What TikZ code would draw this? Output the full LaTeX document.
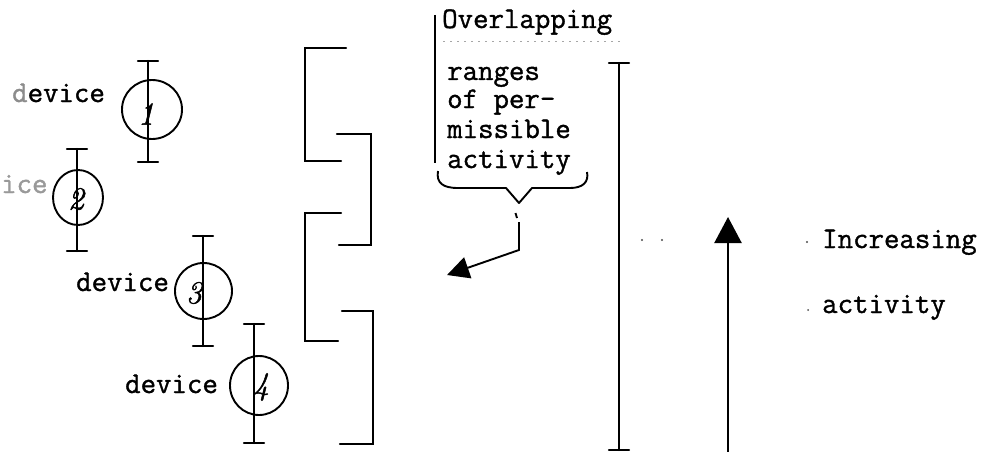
\documentclass[tikz,border=0pt]{standalone}
\usepackage{fontspec}
\usetikzlibrary{arrows.meta}
\newfontfamily\typerfont{Latin Modern Mono}[FakeBold=1.2]
\newfontfamily\handfont{Latin Modern Roman}[FakeBold=1.5]
\tikzset{
  typed/.style={font=\typerfont\fontsize{30}{30}\selectfont, inner sep=0pt, anchor=base west},
  digit/.style={font=\handfont\itshape\fontsize{32}{32}\selectfont, inner sep=0pt},
  ink/.style={line width=2.3pt, line cap=round, line join=miter},
  pen/.style={line width=1.9pt},
  speck/.style={fill=black!70, draw=none},
}
\newcommand{\errbar}[4]{% name, x, top, bottom
  \coordinate (#1t) at (#2,#3);
  \coordinate (#1b) at (#2,#4);
  \draw[ink] (#1t) -- (#1b);
  \draw[ink] ([xshift=-10pt]#1t) -- ([xshift=10pt]#1t);
  \draw[ink] ([xshift=-10pt]#1b) -- ([xshift=10pt]#1b);
}
\begin{document}
\begin{tikzpicture}[x=1pt, y=-1pt]
\useasboundingbox (0,0) rectangle (985,452);

% ---- devices with their individual ranges
\errbar{da}{148}{61}{162}
\draw[pen] (152,109.5) ellipse [x radius=30, y radius=29.5];
\node[digit] (na) at (146,114) {1};
\node[typed] (la) at (12,102) {\textcolor{black!45}{d}evice};

\errbar{db}{77}{149}{251}
\draw[pen] (78,197.5) ellipse [x radius=25, y radius=27.5];
\node[digit] (nb) at (76,199) {2};
\node[typed] (lb) at (1,193) {\textcolor{black!40}{ice}};

\errbar{dc}{203}{236}{346}
\draw[pen] (203.5,291) ellipse [x radius=28.5, y radius=28];
\node[digit] (nc) at (194,293) {3};
\node[typed] (lc) at (76,291) {device};

\errbar{dd}{254}{324}{443}
\draw[pen] (259,385.5) ellipse [x radius=29, y radius=29.5];
\node[digit] (nd) at (261,387) {4};
\node[typed] (ld) at (125,393) {device};

% ---- overlapping brackets
\draw[ink] (346,48) -- (305,48) -- (305,161) -- (341,161);
\draw[ink] (337,134) -- (371,134) -- (371,245) -- (339,245);
\draw[ink] (341,213) -- (305,213) -- (305,341) -- (338,341);
\draw[ink] (342,311) -- (373,311) -- (373,444) -- (340,444);

% ---- caption block
\draw[pen] (435,15) -- (435,163);
\node[typed] (t0) at (442,28) {Overlapping};
\draw[black!35, line width=1pt, dash pattern=on 2pt off 5pt] (443,42) -- (620,42);
\node[typed] (t1) at (447,80) {ranges};
\node[typed] (t2) at (447,108) {of per-};
\node[typed] (t3) at (447,138) {missible};
\node[typed] (t4) at (447,168) {activity};

% brace under the caption
\coordinate (braceTip) at (519,203);
\draw[pen, line join=round]
  (438,171) .. controls (436,183) and (443,188) .. (458,188)
  -- (506,188) -- (braceTip) -- (532,188) -- (570,188)
  .. controls (583,188) and (589,182) .. (587,172);

% pointer from the brace
\coordinate (armTop) at (519,222);
\coordinate (armBend) at (519,250);
\coordinate (armHead) at (447,275);
\draw[pen] (515.5,213) -- (517,218);
\draw[pen, -{Triangle[length=22pt, width=22pt]}] (armTop) -- (armBend) -- (armHead);

% ---- overall range
\errbar{big}{619}{63}{450}

% ---- direction of increasing activity
\coordinate (upFoot) at (728,455);
\coordinate (upTip) at (728,217);
\draw[ink, line cap=butt, -{Triangle[length=26pt, width=27pt]}] (upFoot) -- (upTip);
\fill[speck] (642,240) circle (1.2);
\fill[speck] (662,240) circle (1.2);
\fill[speck] (807,242) circle (1.2);
\fill[speck] (808,310) circle (1.0);
\node[typed] (i1) at (822,248) {Increasing};
\node[typed] (i2) at (822,313) {activity};
\end{tikzpicture}
\end{document}
